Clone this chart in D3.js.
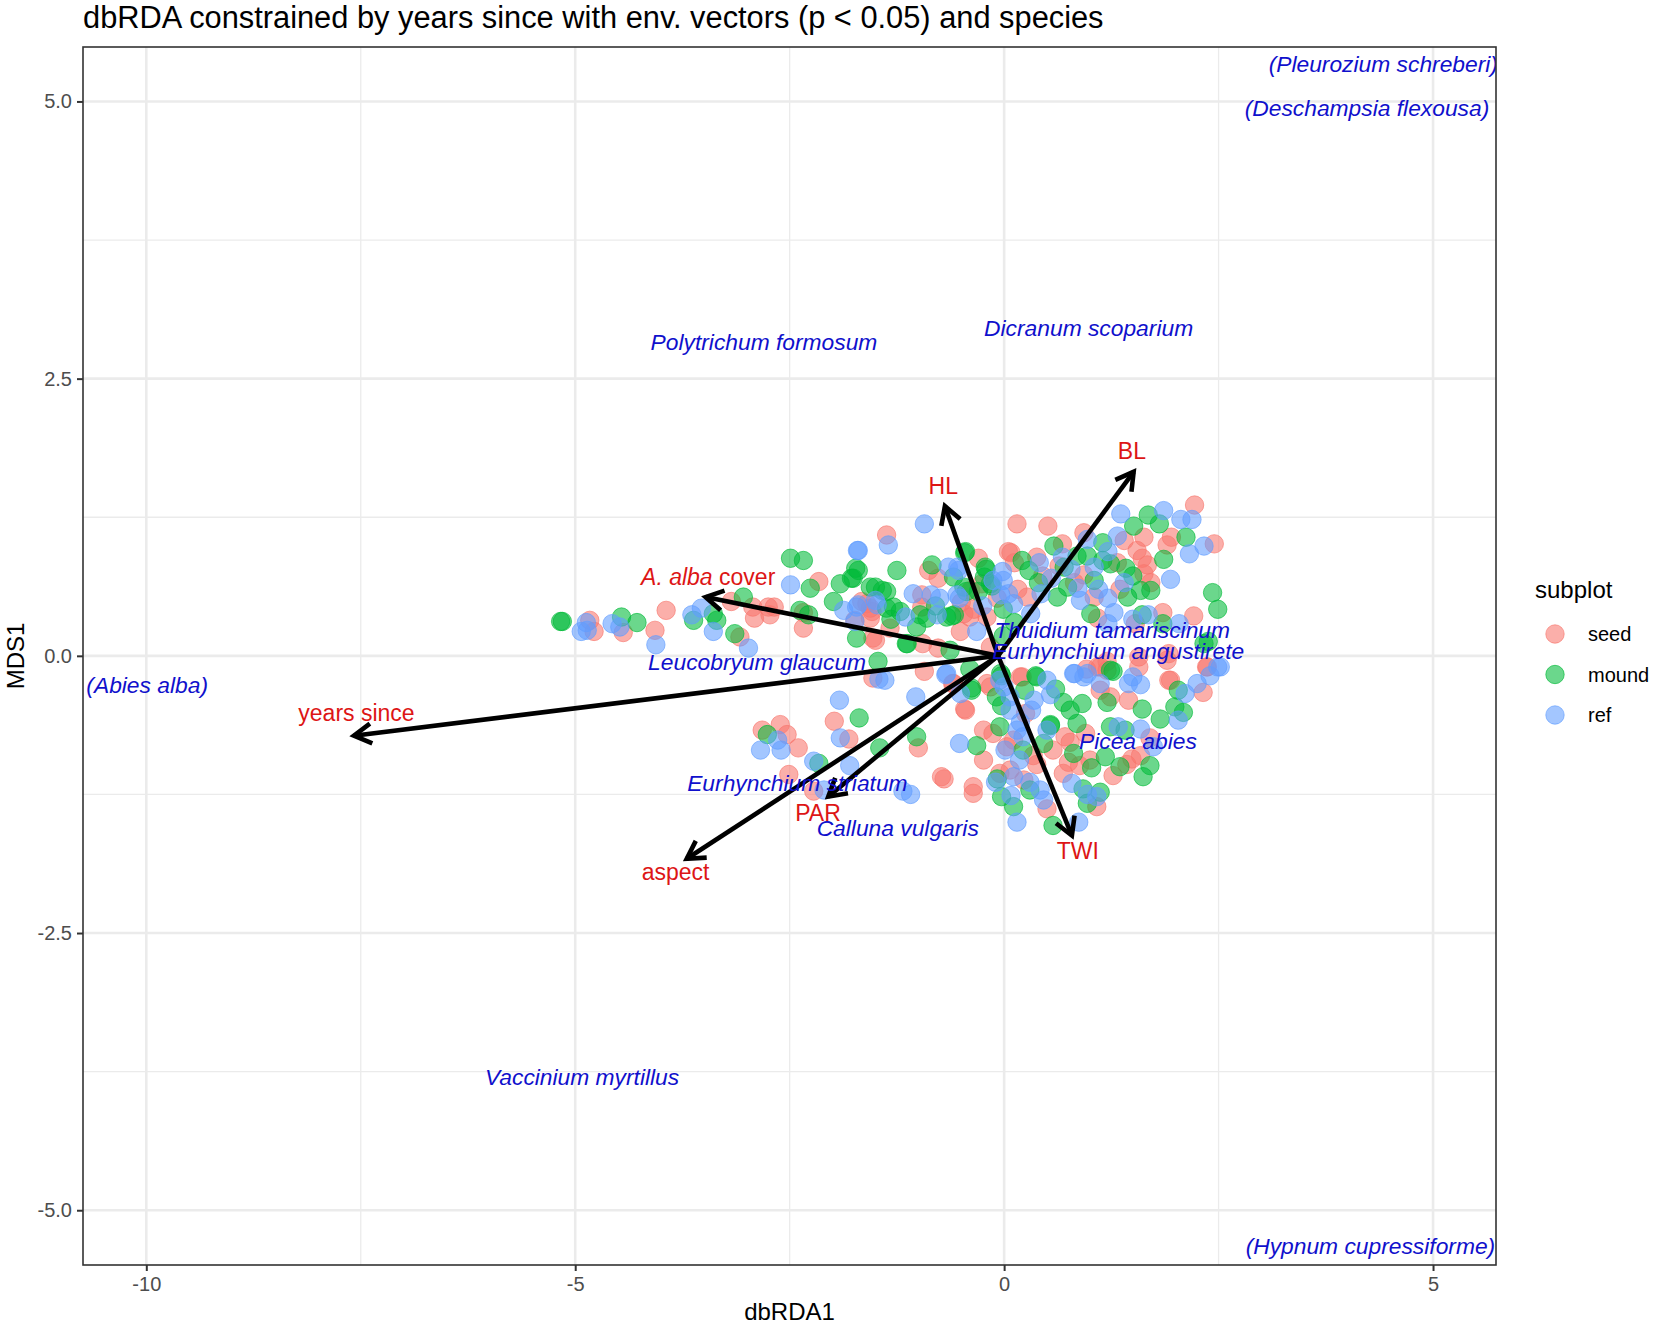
<!DOCTYPE html>
<html>
<head>
<meta charset="utf-8">
<script src="https://cdn.jsdelivr.net/npm/d3@7"></script>
<style>
  body { margin: 0; background: #fff; }
  svg { font-family: "Liberation Sans", Arial, Helvetica, sans-serif; }
</style>
</head>
<body>
<svg id="chart" width="1654" height="1326"></svg>
<script>
// ---- data ----
var groups = ["seed", "mound", "ref"];
var groupColors = ["#F8766D", "#00BA38", "#619CFF"];

var seedPts = [
  [-4.83,0.32],[-4.78,0.22],[-4.44,0.21],[-4.07,0.23],[-3.94,0.41],[-3.18,0.49],[-2.93,0.44],[-2.91,0.34],
  [-2.75,0.44],[-2.73,0.37],[-2.68,0.44],[-3.08,0.17],[-2.16,0.67],[-2.34,0.39],[-2.34,0.25],[-1.37,1.09],
  [-1.66,0.49],[-1.56,0.43],[-1.53,0.16],[-0.95,0.11],[-1.53,-0.20],[-0.93,-0.14],[-0.60,-0.25],[-1.98,-0.59],
  [-1.81,-0.75],[-1.00,-0.83],[-2.82,-0.67],[-2.61,-0.62],[-2.53,-0.71],[-2.40,-0.83],[-2.51,-1.07],[-2.22,-1.22],
  [-0.73,-1.09],[-0.88,0.77],[-0.77,0.70],[-0.96,0.55],[-0.26,0.65],[-0.08,0.52],[0.05,0.94],[-1.60,0.47],
  [-1.54,0.40],[-1.74,0.32],[-1.56,0.34],[-0.96,0.44],[-1.33,0.25],[-0.47,0.38],[-0.40,0.35],[-0.51,0.22],
  [-0.20,0.35],[-1.50,0.14],[-0.77,0.07],[-0.16,0.08],[-0.20,-0.25],[-0.46,-0.48],[0.15,1.19],[0.51,1.17],
  [2.22,1.36],[0.93,1.11],[1.40,1.04],[1.63,1.07],[1.95,1.07],[1.90,1.00],[2.45,1.01],[0.68,1.01],
  [0.08,0.93],[0.12,0.84],[0.38,0.89],[0.64,0.81],[1.32,0.84],[1.55,0.95],[1.61,0.88],[1.67,0.82],
  [1.63,0.74],[1.71,0.66],[0.93,0.73],[1.05,0.53],[0.27,0.53],[0.16,0.60],[-0.39,0.59],[2.21,0.36],
  [1.85,0.39],[1.53,0.29],[1.09,0.34],[1.92,0.02],[1.57,-0.01],[1.09,-0.10],[1.20,-0.05],[1.94,-0.22],
  [2.37,-0.10],[1.90,-0.04],[0.19,-0.19],[-0.50,0.48],[-0.35,0.42],[-0.59,-0.25],[-0.45,-0.49],[-0.24,-0.67],
  [-0.13,-0.70],[-0.24,-0.94],[-0.70,-1.11],[-0.36,-1.18],[-0.36,-1.24],[-0.16,-0.28],[0.21,-0.19],[0.11,-0.76],
  [0.03,-0.82],[0.34,-0.90],[0.38,-0.98],[0.57,-0.85],[-0.05,-1.06],[0.07,-1.03],[0.23,-1.12],[0.50,-1.38],
  [0.71,-0.73],[0.77,-0.78],[0.75,-0.96],[0.69,-1.06],[1.08,-1.36],[1.00,-0.94],[0.88,-0.99],[0.96,-0.12],
  [1.12,-0.10],[1.20,-0.13],[1.12,-0.31],[1.24,-0.37],[1.45,-0.40],[1.57,-0.10],[1.27,-1.08],[1.43,-0.98],
  [1.49,-0.93],[1.59,-0.90],[1.70,-0.74],[1.92,-0.22],[2.32,-0.33],[2.36,-0.10],[0.45,0.72],[0.82,0.66],
  [-0.30,0.88],[1.35,0.60],[0.25,-0.52],[0.95,-0.70]
];

var moundPts = [
  [-5.17,0.31],[-5.15,0.31],[-4.46,0.35],[-4.28,0.30],[-3.62,0.32],[-3.39,0.38],[-3.35,0.32],[-3.04,0.53],
  [-3.14,0.20],[-2.49,0.88],[-2.34,0.86],[-2.26,0.61],[-2.38,0.41],[-2.28,0.37],[-1.91,0.65],[-1.78,0.70],
  [-1.73,0.79],[-1.56,0.62],[-1.42,0.59],[-1.25,0.77],[-1.99,0.49],[-1.37,0.43],[-1.72,0.16],[-1.32,0.33],
  [-1.14,0.11],[-1.47,-0.05],[-1.69,-0.56],[-1.02,-0.73],[-1.45,-0.83],[-2.76,-0.71],[-2.16,-0.97],[-1.70,0.77],
  [-1.76,0.70],[-1.50,0.62],[-1.37,0.58],[-0.84,0.82],[-0.59,0.71],[-0.45,0.94],[-0.22,0.80],[-0.44,0.58],
  [-0.14,0.63],[-0.30,0.58],[-1.29,0.44],[-1.21,0.40],[-1.02,0.26],[-0.90,0.34],[-0.98,0.37],[-0.67,0.35],
  [-0.61,0.36],[-0.01,0.42],[-0.01,0.18],[-1.13,0.11],[-0.63,0.05],[-0.40,-0.12],[-0.38,-0.29],[-0.09,-0.37],
  [-0.46,0.93],[1.68,1.27],[1.51,1.17],[1.81,1.19],[1.15,1.02],[2.12,1.07],[1.86,0.87],[0.58,0.99],
  [-0.21,0.78],[0.21,0.86],[0.29,0.77],[0.70,0.80],[0.85,0.90],[0.97,0.90],[1.15,0.86],[1.24,0.83],
  [1.42,0.79],[1.50,0.72],[1.71,0.59],[1.59,0.59],[1.44,0.53],[0.74,0.62],[0.62,0.53],[-0.16,0.65],
  [-0.23,0.71],[-0.47,0.62],[2.43,0.57],[2.49,0.42],[1.61,0.37],[1.01,0.38],[1.85,0.29],[2.33,0.11],
  [0.12,0.30],[-0.58,0.37],[1.24,-0.13],[-0.04,-0.16],[0.37,-0.18],[-0.38,-0.31],[-0.32,-0.81],[-0.03,-0.18],
  [0.24,-0.31],[0.38,-0.19],[-0.03,-0.45],[-0.05,-0.64],[0.22,-0.85],[0.54,-0.63],[0.46,-0.79],[-0.08,-1.11],
  [0.30,-1.21],[-0.03,-1.27],[0.11,-1.36],[0.57,-1.53],[0.69,-0.42],[0.77,-0.49],[0.91,-0.43],[0.54,-0.62],
  [0.85,-0.61],[0.81,-0.88],[0.92,-1.20],[1.12,-1.23],[0.97,-1.33],[1.02,-1.01],[1.27,-0.14],[1.20,-0.42],
  [1.61,-0.48],[1.24,-0.64],[1.41,-0.67],[1.18,-0.91],[1.35,-1.00],[1.70,-0.99],[1.62,-1.09],[1.82,-0.57],
  [1.99,-0.46],[2.09,-0.51],[2.03,-0.31],[2.38,0.13],[0.40,0.66],[1.05,0.68],[-0.80,0.45],[0.60,-0.30]
];

var refPts = [
  [-4.86,0.23],[-4.93,0.22],[-4.87,0.30],[-4.57,0.29],[-4.48,0.26],[-4.06,0.10],[-3.64,0.37],[-3.53,0.43],
  [-3.39,0.22],[-2.98,0.07],[-2.49,0.64],[-1.70,0.95],[-1.35,1.00],[-0.93,1.19],[-1.87,0.41],[-1.70,0.46],
  [-1.50,0.50],[-1.74,0.31],[-1.46,-0.21],[-0.68,-0.17],[-1.92,-0.40],[-1.03,-0.37],[-1.91,-0.74],[-2.64,-0.76],
  [-2.60,-0.85],[-2.84,-0.85],[-2.22,-0.95],[-1.80,-0.99],[-2.10,-1.21],[-1.18,-1.22],[-1.09,-1.25],[-1.71,0.95],
  [-0.65,0.80],[-0.53,0.77],[-1.06,0.56],[-0.85,0.55],[-0.75,0.52],[-0.55,0.55],[-0.13,0.68],[-0.01,0.68],
  [0.05,0.56],[-1.72,0.44],[-1.48,0.46],[-1.15,0.35],[-0.78,0.37],[-0.32,0.22],[0.11,0.47],[-1.39,-0.22],
  [-0.05,-0.22],[1.36,1.28],[1.86,1.31],[2.06,1.23],[2.19,1.23],[0.97,1.05],[1.32,1.08],[2.16,0.92],
  [2.33,0.99],[-0.54,0.80],[-0.02,0.76],[0.41,0.84],[0.68,0.89],[0.78,0.78],[1.05,0.80],[1.21,0.94],
  [0.86,0.61],[1.40,0.66],[0.89,0.50],[1.21,0.52],[0.43,0.56],[-0.04,0.55],[-0.52,0.52],[1.94,0.69],
  [1.68,0.37],[1.50,0.33],[1.28,0.39],[1.21,0.29],[2.04,0.29],[0.31,0.38],[0.82,-0.16],[0.97,-0.16],
  [1.50,-0.19],[2.49,-0.10],[-0.67,-0.16],[-0.51,-0.34],[-0.52,-0.79],[0.00,-0.28],[0.07,-0.37],[0.07,-0.49],
  [0.50,-0.22],[0.54,-0.35],[0.32,-0.49],[0.19,-0.60],[0.15,-0.67],[0.22,-0.73],[0.01,-0.85],[0.18,-0.94],
  [0.50,-0.67],[-0.10,-1.14],[0.11,-1.09],[0.30,-1.14],[0.08,-1.26],[0.42,-1.21],[0.46,-1.30],[0.15,-1.50],
  [0.87,-1.50],[0.79,-1.15],[0.97,-1.25],[1.08,-1.27],[0.81,-0.16],[0.93,-0.19],[1.12,-0.25],[1.45,-0.25],
  [1.59,-0.26],[1.33,-0.64],[1.59,-0.66],[1.74,-0.82],[2.03,-0.58],[2.11,-0.34],[2.25,-0.25],[2.40,-0.18],
  [2.52,-0.10],[0.55,0.70],[-0.25,0.45],[1.10,0.60],[0.35,-0.40]
];

// env vectors: origin, tip, label position
var vecOrigin = [-0.07, 0];
var vecNames = ["BL", "HL", "A. alba cover", "years since", "aspect", "PAR", "TWI"];
var vecTips = [[1.51,1.66],[-0.69,1.35],[-3.48,0.53],[-7.58,-0.72],[-3.70,-1.83],[-2.05,-1.27],[0.79,-1.62]];
var vecLabelPos = [[1.49,1.85],[-0.71,1.53],[-3.45,0.71],[-7.55,-0.52],[-3.83,-1.95],[-2.17,-1.42],[0.86,-1.76]];

// species labels
var speciesNames = ["(Pleurozium schreberi)", "(Deschampsia flexousa)", "Dicranum scoparium", "Polytrichum formosum",
  "Thuidium tamariscinum", "Eurhynchium angustirete", "Leucobryum glaucum", "(Abies alba)", "Picea abies",
  "Eurhynchium striatum", "Calluna vulgaris", "Vaccinium myrtillus", "(Hypnum cupressiforme)"];
var speciesPos = [[4.42,5.34],[4.23,4.94],[0.985,2.955],[-2.80,2.83],[1.26,0.232],[1.33,0.04],[-2.88,-0.057],
  [-9.99,-0.26],[1.56,-0.77],[-2.41,-1.145],[-1.24,-1.553],[-4.92,-3.80],[4.27,-5.32]];

var xTicks = [-10, -5, 0, 5];
var xMinor = [-7.5, -2.5, 2.5];
var yTicks = [-5, -2.5, 0, 2.5, 5];
var yMinor = [-3.75, -1.25, 1.25, 3.75];

// ---- layout ----
var panel = {left: 83, right: 1496, top: 47, bottom: 1265};
var svg = d3.select("#chart");

var x = d3.scaleLinear().domain([-10.738, 5.734]).range([panel.left, panel.right]);
var y = d3.scaleLinear().domain([-5.494, 5.491]).range([panel.bottom, panel.top]);

svg.append("clipPath").attr("id", "panelclip")
  .append("rect")
  .attr("x", panel.left).attr("y", panel.top)
  .attr("width", panel.right - panel.left).attr("height", panel.bottom - panel.top);

var grid = svg.append("g");
grid.selectAll(".xminor").data(xMinor).enter().append("line")
  .attr("x1", d => x(d)).attr("x2", d => x(d))
  .attr("y1", panel.top).attr("y2", panel.bottom)
  .attr("stroke", "#EBEBEB").attr("stroke-width", 1.3);
grid.selectAll(".yminor").data(yMinor).enter().append("line")
  .attr("y1", d => y(d)).attr("y2", d => y(d))
  .attr("x1", panel.left).attr("x2", panel.right)
  .attr("stroke", "#EBEBEB").attr("stroke-width", 1.3);
grid.selectAll(".xmajor").data(xTicks).enter().append("line")
  .attr("x1", d => x(d)).attr("x2", d => x(d))
  .attr("y1", panel.top).attr("y2", panel.bottom)
  .attr("stroke", "#EBEBEB").attr("stroke-width", 2.6);
grid.selectAll(".ymajor").data(yTicks).enter().append("line")
  .attr("y1", d => y(d)).attr("y2", d => y(d))
  .attr("x1", panel.left).attr("x2", panel.right)
  .attr("stroke", "#EBEBEB").attr("stroke-width", 2.6);

// points
var plot = svg.append("g").attr("clip-path", "url(#panelclip)");
var allSets = [seedPts, moundPts, refPts];
allSets.forEach(function(pts, i) {
  plot.append("g").selectAll("circle").data(pts).enter().append("circle")
    .attr("cx", d => x(d[0])).attr("cy", d => y(d[1]))
    .attr("r", 9.2)
    .attr("fill", groupColors[i]).attr("fill-opacity", 0.58)
    .attr("stroke", groupColors[i]).attr("stroke-opacity", 0.65).attr("stroke-width", 1);
});

// arrows
var arrows = plot.append("g");
var headLen = 20, headAng = Math.PI / 6;
vecTips.forEach(function(t) {
  var x0 = x(vecOrigin[0]), y0 = y(vecOrigin[1]);
  var x1 = x(t[0]), y1 = y(t[1]);
  arrows.append("line")
    .attr("x1", x0).attr("y1", y0).attr("x2", x1).attr("y2", y1)
    .attr("stroke", "#000").attr("stroke-width", 4.6);
  var a = Math.atan2(y1 - y0, x1 - x0);
  var p = d3.path();
  p.moveTo(x1 - headLen * Math.cos(a - headAng), y1 - headLen * Math.sin(a - headAng));
  p.lineTo(x1, y1);
  p.lineTo(x1 - headLen * Math.cos(a + headAng), y1 - headLen * Math.sin(a + headAng));
  arrows.append("path").attr("d", p.toString())
    .attr("fill", "none").attr("stroke", "#000").attr("stroke-width", 4.6)
    .attr("stroke-linejoin", "miter").attr("stroke-linecap", "butt");
});

// species labels
plot.append("g").selectAll("text").data(speciesNames).enter().append("text")
  .attr("x", (d, i) => x(speciesPos[i][0]))
  .attr("y", (d, i) => y(speciesPos[i][1]))
  .attr("text-anchor", "middle").attr("dominant-baseline", "central")
  .attr("font-size", 22.8).attr("font-style", "italic")
  .attr("fill", "#1010CC")
  .text(d => d);

// env labels
var envG = plot.append("g");
vecNames.forEach(function(n, i) {
  var t = envG.append("text")
    .attr("x", x(vecLabelPos[i][0])).attr("y", y(vecLabelPos[i][1]))
    .attr("text-anchor", "middle").attr("dominant-baseline", "central")
    .attr("font-size", 23).attr("fill", "#DD1515");
  if (n == "A. alba cover") {
    t.append("tspan").attr("font-style", "italic").text("A. alba");
    t.append("tspan").text(" cover");
  } else {
    t.text(n);
  }
});

// panel border
svg.append("rect")
  .attr("x", panel.left).attr("y", panel.top)
  .attr("width", panel.right - panel.left).attr("height", panel.bottom - panel.top)
  .attr("fill", "none").attr("stroke", "#333333").attr("stroke-width", 1.6);

// axes
var xAxis = svg.append("g").attr("transform", "translate(0," + panel.bottom + ")")
  .call(d3.axisBottom(x).tickValues(xTicks).tickSize(6).tickPadding(6).tickFormat(d3.format("d")));
var yAxis = svg.append("g").attr("transform", "translate(" + panel.left + ",0)")
  .call(d3.axisLeft(y).tickValues(yTicks).tickSize(6).tickPadding(5).tickFormat(d3.format(".1f")));
[xAxis, yAxis].forEach(function(ax) {
  ax.select(".domain").remove();
  ax.selectAll(".tick line").attr("stroke", "#333333").attr("stroke-width", 2);
  ax.selectAll(".tick text").attr("fill", "#4D4D4D").attr("font-size", 20)
    .attr("font-family", "Liberation Sans, Arial, sans-serif");
});
xAxis.selectAll(".tick text").text(d => d < 0 ? "-" + Math.abs(d) : d);
yAxis.selectAll(".tick text").text(d => (d < 0 ? "-" : "") + Math.abs(d).toFixed(1));

// axis titles
svg.append("text")
  .attr("x", (panel.left + panel.right) / 2).attr("y", 1320)
  .attr("text-anchor", "middle").attr("font-size", 24).attr("fill", "#000")
  .text("dbRDA1");
svg.append("text")
  .attr("transform", "translate(24," + ((panel.top + panel.bottom) / 2) + ") rotate(-90)")
  .attr("text-anchor", "middle").attr("font-size", 24).attr("fill", "#000")
  .text("MDS1");

// title
svg.append("text")
  .attr("x", 83).attr("y", 28)
  .attr("font-size", 30.8).attr("fill", "#000")
  .text("dbRDA constrained by years since with env. vectors (p < 0.05) and species");

// legend
var legend = svg.append("g");
legend.append("text").attr("x", 1535).attr("y", 598)
  .attr("font-size", 24).attr("fill", "#000").text("subplot");
groups.forEach(function(g, i) {
  var cy = 634 + i * 40.5;
  legend.append("circle").attr("cx", 1555).attr("cy", cy).attr("r", 9.2)
    .attr("fill", groupColors[i]).attr("fill-opacity", 0.58)
    .attr("stroke", groupColors[i]).attr("stroke-opacity", 0.65).attr("stroke-width", 1);
  legend.append("text").attr("x", 1588).attr("y", cy)
    .attr("dominant-baseline", "central")
    .attr("font-size", 20).attr("fill", "#000").text(g);
});
</script>
</body>
</html>
